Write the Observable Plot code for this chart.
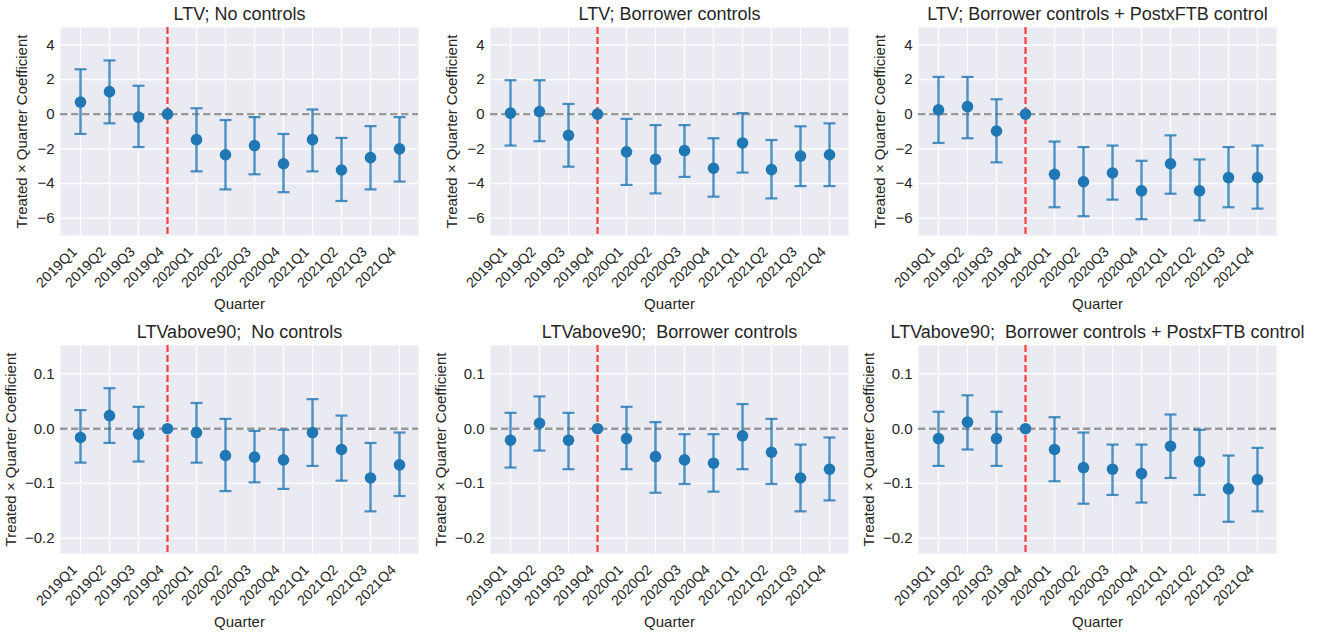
<!DOCTYPE html>
<html>
<head>
<meta charset="utf-8">
<script src="https://cdn.jsdelivr.net/npm/d3@7"></script>
<script src="https://cdn.jsdelivr.net/npm/@observablehq/plot@0.6"></script>
<style>
  html, body { margin: 0; padding: 0; background: #ffffff; }
  #fig { position: relative; width: 1323px; height: 635px; overflow: hidden; }
  #fig > div { position: absolute; }
  svg { overflow: visible; }
</style>
</head>
<body>
<div id="fig"></div>
<script>
// Quarters on the event-study axis; 2019Q4 is the omitted reference period.
const quarters = ["2019Q1", "2019Q2", "2019Q3", "2019Q4", "2020Q1", "2020Q2",
                  "2020Q3", "2020Q4", "2021Q1", "2021Q2", "2021Q3", "2021Q4"];
const eventQuarter = "2019Q4";

// LTV outcome: coefficient and 95% confidence bounds
const ltvNoCoef  = [0.70, 1.30, -0.17, 0, -1.47, -2.34, -1.81, -2.86, -1.47, -3.22, -2.51, -2.00];
const ltvNoLo    = [-1.14, -0.53, -1.90, null, -3.30, -4.34, -3.47, -4.50, -3.30, -5.01, -4.34, -3.89];
const ltvNoHi    = [2.59, 3.10, 1.64, null, 0.34, -0.34, -0.17, -1.14, 0.27, -1.37, -0.69, -0.17];

const ltvBorCoef = [0.06, 0.15, -1.22, 0, -2.17, -2.61, -2.10, -3.12, -1.66, -3.20, -2.42, -2.34];
const ltvBorLo   = [-1.81, -1.56, -3.03, null, -4.08, -4.57, -3.62, -4.76, -3.37, -4.86, -4.15, -4.15];
const ltvBorHi   = [1.96, 1.96, 0.59, null, -0.27, -0.63, -0.63, -1.39, 0.06, -1.49, -0.70, -0.53];

const ltvFtbCoef = [0.25, 0.44, -0.97, 0, -3.47, -3.90, -3.39, -4.42, -2.86, -4.42, -3.66, -3.66];
const ltvFtbLo   = [-1.66, -1.39, -2.78, null, -5.37, -5.89, -4.93, -6.06, -4.59, -6.13, -5.37, -5.45];
const ltvFtbHi   = [2.15, 2.15, 0.86, null, -1.58, -1.90, -1.81, -2.69, -1.22, -2.61, -1.90, -1.81];

// LTVabove90 outcome: coefficient and 95% confidence bounds
const a90NoCoef  = [-0.016, 0.024, -0.010, 0, -0.007, -0.049, -0.052, -0.057, -0.007, -0.038, -0.090, -0.066];
const a90NoLo    = [-0.062, -0.026, -0.060, null, -0.062, -0.114, -0.098, -0.110, -0.068, -0.095, -0.151, -0.123];
const a90NoHi    = [0.034, 0.074, 0.040, null, 0.047, 0.018, -0.004, -0.002, 0.054, 0.024, -0.026, -0.007];

const a90BorCoef = [-0.021, 0.010, -0.021, 0, -0.018, -0.051, -0.057, -0.063, -0.013, -0.043, -0.090, -0.074];
const a90BorLo   = [-0.071, -0.040, -0.074, null, -0.074, -0.117, -0.101, -0.115, -0.074, -0.101, -0.151, -0.131];
const a90BorHi   = [0.029, 0.059, 0.029, null, 0.040, 0.012, -0.010, -0.010, 0.045, 0.018, -0.029, -0.016];

const a90FtbCoef = [-0.018, 0.012, -0.018, 0, -0.038, -0.071, -0.074, -0.082, -0.032, -0.060, -0.110, -0.093];
const a90FtbLo   = [-0.068, -0.038, -0.068, null, -0.096, -0.137, -0.121, -0.135, -0.090, -0.121, -0.170, -0.151];
const a90FtbHi   = [0.031, 0.061, 0.031, null, 0.021, -0.007, -0.029, -0.029, 0.026, -0.002, -0.049, -0.035];

// Panel titles
const titles = [
  "LTV; No controls", "LTV; Borrower controls", "LTV; Borrower controls + PostxFTB control",
  "LTVabove90;  No controls", "LTVabove90;  Borrower controls", "LTVabove90;  Borrower controls + PostxFTB control"
];
const yLabel = "Treated \u00d7 Quarter Coefficient";
const xLabel = "Quarter";

// Y ticks for each row
const ltvTicks = [-6, -4, -2, 0, 2, 4];
const a90Ticks = [-0.2, -0.1, 0.0, 0.1];

const blue = "#1f77b4";
const ink = "#262626";
const font = "'Liberation Sans', Arial, sans-serif";

// horizontal cap drawn as a custom dot symbol
const capSymbol = {
  draw(ctx, size) {
    const r = Math.sqrt(size / Math.PI);
    ctx.moveTo(-r, 0);
    ctx.lineTo(r, 0);
  }
};

function table(coef, lo, hi) {
  return quarters.map((q, i) => ({q, coef: coef[i], lo: lo[i], hi: hi[i]}));
}

function panel({title, data, yDomain, yTicks, yFormat, left, top, width, height, mt, mb, mr, ylabelDx}) {
  const bars = data.filter(d => d.lo != null);
  const chart = Plot.plot({
    width, height,
    marginLeft: 60, marginRight: mr, marginTop: mt, marginBottom: mb,
    style: {background: "transparent", fontFamily: font, fontSize: "15px", color: ink},
    x: {type: "point", domain: quarters, padding: 0.55},
    y: {domain: yDomain},
    marks: [
      Plot.frame({fill: "#EAEAF2", stroke: null}),
      Plot.gridX({stroke: "#ffffff", strokeOpacity: 1, strokeWidth: 1.3}),
      Plot.gridY(yTicks, {stroke: "#ffffff", strokeOpacity: 1, strokeWidth: 1.3}),
      Plot.axisY(yTicks, {tickSize: 0, tickPadding: 6, tickFormat: yFormat, fontSize: 15, fill: ink, label: null}),
      Plot.axisX({tickSize: 0, tickRotate: -45, tickPadding: 11, dx: -6, dy: 3, fontSize: 14.2, fill: ink, label: null}),
      Plot.ruleY([0], {stroke: "#999999", strokeWidth: 2.4, strokeDasharray: "7.5,3.5"}),
      Plot.ruleX([eventQuarter], {stroke: "#ff2a2a", strokeOpacity: 0.9, strokeWidth: 2.2, strokeDasharray: "7,3"}),
      Plot.link(bars, {x1: "q", x2: "q", y1: "lo", y2: "hi", stroke: blue, strokeOpacity: 0.8, strokeWidth: 2.4}),
      Plot.dot(bars, {x: "q", y: "lo", symbol: capSymbol, r: 6, stroke: blue, strokeOpacity: 0.8, strokeWidth: 2.2, fill: "none"}),
      Plot.dot(bars, {x: "q", y: "hi", symbol: capSymbol, r: 6, stroke: blue, strokeOpacity: 0.8, strokeWidth: 2.2, fill: "none"}),
      Plot.dot(data, {x: "q", y: "coef", r: 5.8, fill: blue, stroke: null}),
      Plot.text([title], {frameAnchor: "top", dy: -13, fontSize: 18, fill: ink, lineAnchor: "middle"}),
      Plot.text([xLabel], {frameAnchor: "bottom", dy: 69, fontSize: 15, fill: ink, lineAnchor: "middle"}),
      Plot.text([yLabel], {frameAnchor: "left", dx: ylabelDx, rotate: -90, fontSize: 15, fill: ink, textAnchor: "middle", lineAnchor: "middle"})
    ]
  });
  const holder = document.createElement("div");
  holder.style.left = left + "px";
  holder.style.top = top + "px";
  holder.appendChild(chart);
  document.getElementById("fig").appendChild(holder);
}

const fmtInt = d => d3.format("d")(d);
const fmt1 = d => d3.format(".1f")(d);

const cols = [{left: 0, width: 430, mr: 12}, {left: 430, width: 430, mr: 12}, {left: 858, width: 465, mr: 47}];
const ltvSets = [[ltvNoCoef, ltvNoLo, ltvNoHi], [ltvBorCoef, ltvBorLo, ltvBorHi], [ltvFtbCoef, ltvFtbLo, ltvFtbHi]];
const a90Sets = [[a90NoCoef, a90NoLo, a90NoHi], [a90BorCoef, a90BorLo, a90BorHi], [a90FtbCoef, a90FtbLo, a90FtbHi]];

ltvSets.forEach((s, i) => panel({
  title: titles[i], data: table(...s), yDomain: [-7, 5], yTicks: ltvTicks, yFormat: fmtInt,
  left: cols[i].left, top: 0, width: cols[i].width, height: 315, mt: 27, mb: 80, mr: cols[i].mr, ylabelDx: -38
}));
a90Sets.forEach((s, i) => panel({
  title: titles[i + 3], data: table(...s), yDomain: [-0.228, 0.152], yTicks: a90Ticks, yFormat: fmt1,
  left: cols[i].left, top: 315, width: cols[i].width, height: 320, mt: 30, mb: 82, mr: cols[i].mr, ylabelDx: -49
}));
</script>
</body>
</html>
